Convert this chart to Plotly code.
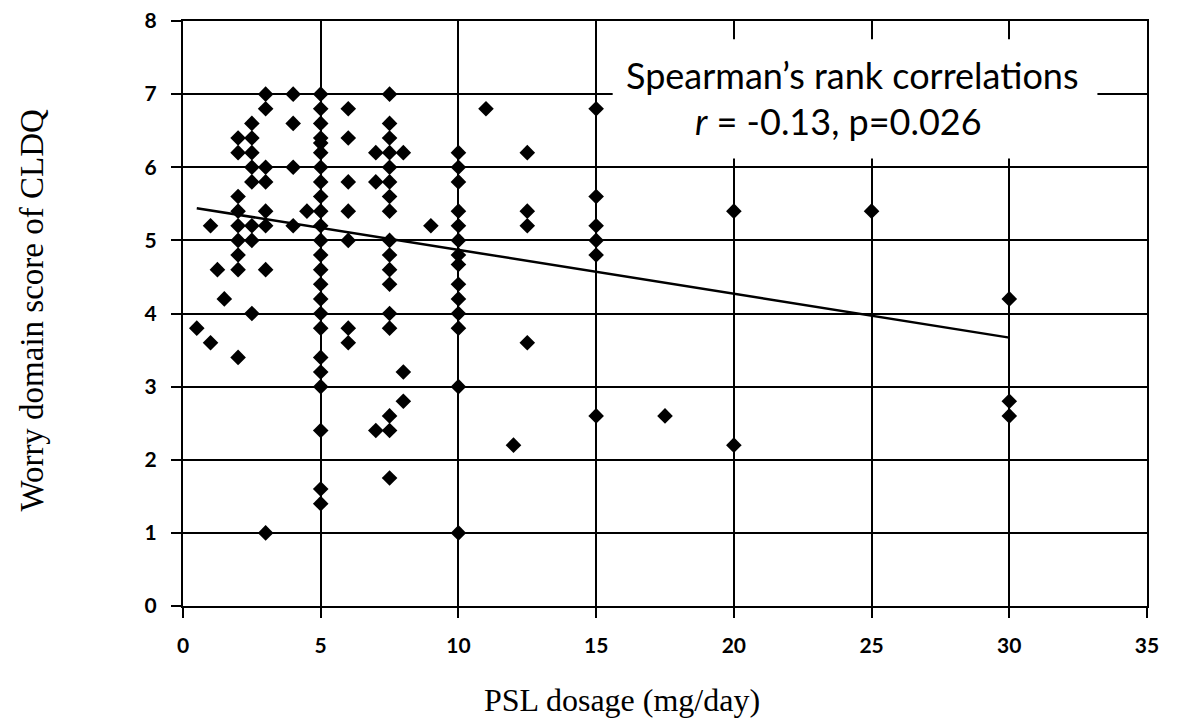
import plotly.graph_objects as go

# PSL dosage (mg/day) and Worry domain score of CLDQ
psl_dose = (
    [0.5]
    + [1, 1]
    + [1.25]
    + [1.5]
    + [2] * 9
    + [2.5] * 8
    + [3] * 8
    + [4] * 4
    + [4.5]
    + [5] * 24
    + [6] * 7
    + [7] * 3
    + [7.5] * 17
    + [8] * 3
    + [9]
    + [10] * 14
    + [11]
    + [12]
    + [12.5] * 4
    + [15] * 6
    + [17.5]
    + [20] * 2
    + [25]
    + [30] * 3
)
worry_score = (
    [3.8]
    + [5.2, 3.6]
    + [4.6]
    + [4.2]
    + [6.4, 6.2, 5.6, 5.4, 5.2, 5.0, 4.8, 4.6, 3.4]
    + [6.6, 6.4, 6.2, 6.0, 5.8, 5.2, 5.0, 4.0]
    + [7.0, 6.8, 6.0, 5.8, 5.4, 5.2, 4.6, 1.0]
    + [7.0, 6.6, 6.0, 5.2]
    + [5.4]
    + [7.0, 6.8, 6.6, 6.4, 6.33, 6.2, 6.0, 5.8, 5.6, 5.4, 5.2, 5.0,
       4.8, 4.6, 4.4, 4.2, 4.0, 3.8, 3.4, 3.2, 3.0, 2.4, 1.6, 1.4]
    + [6.8, 6.4, 5.8, 5.4, 5.0, 3.8, 3.6]
    + [6.2, 5.8, 2.4]
    + [7.0, 6.6, 6.4, 6.2, 6.0, 5.8, 5.6, 5.4, 5.0, 4.8, 4.6, 4.4,
       4.0, 3.8, 2.6, 2.4, 1.75]
    + [6.2, 3.2, 2.8]
    + [5.2]
    + [6.2, 6.0, 5.8, 5.4, 5.2, 5.0, 4.8, 4.67, 4.4, 4.2, 4.0, 3.8, 3.0, 1.0]
    + [6.8]
    + [2.2]
    + [6.2, 5.4, 5.2, 3.6]
    + [6.8, 5.6, 5.2, 5.0, 4.8, 2.6]
    + [2.6]
    + [5.4, 2.2]
    + [5.4]
    + [4.2, 2.8, 2.6]
)

# Linear trend line end points
trend_x = [0.5, 30]
trend_y = [5.44, 3.67]

x_ticks = [0, 5, 10, 15, 20, 25, 30, 35]
y_ticks = [0, 1, 2, 3, 4, 5, 6, 7, 8]

stat_line1 = "Spearman\u2019s rank correlations"
stat_line2 = "<i>r</i> = -0.13, p=0.026"
x_title = "PSL dosage (mg/day)"
y_title = "Worry domain score of CLDQ"

fig = go.Figure()

fig.add_trace(go.Scatter(
    x=trend_x, y=trend_y, mode="lines",
    line=dict(color="black", width=2.5),
    hoverinfo="skip", showlegend=False,
))

fig.add_trace(go.Scatter(
    x=psl_dose, y=worry_score, mode="markers",
    marker=dict(symbol="diamond", size=12, color="black",
                line=dict(width=0)),
    showlegend=False,
))

# white text box hiding the grid behind the statistics
fig.add_shape(type="rect", xref="x", yref="y",
              x0=15.6, x1=33.2, y0=6.12, y1=7.75,
              fillcolor="white", line=dict(width=0), layer="between")

tick_font = dict(family="Lato", size=21, color="black", weight="bold")

fig.update_layout(
    width=1162, height=712,
    margin=dict(l=175, r=23, t=13, b=114, autoexpand=False),
    paper_bgcolor="white", plot_bgcolor="white",
    xaxis=dict(
        range=[0, 35], tickvals=x_ticks, ticktext=[str(v) for v in x_ticks],
        showgrid=True, gridcolor="black", gridwidth=2,
        showline=True, linecolor="black", linewidth=2, mirror=True,
        ticks="outside", ticklen=10, tickwidth=2, tickcolor="black",
        tickfont=tick_font, ticklabelstandoff=10, zeroline=False,
        ticklabeloverflow="allow", automargin=False,
    ),
    yaxis=dict(
        range=[0, 8], tickvals=y_ticks, ticktext=[str(v) for v in y_ticks],
        showgrid=True, gridcolor="black", gridwidth=2,
        showline=True, linecolor="black", linewidth=2, mirror=True,
        ticks="outside", ticklen=10, tickwidth=2, tickcolor="black",
        tickfont=tick_font, ticklabelstandoff=10, zeroline=False,
        ticklabeloverflow="allow", automargin=False,
    ),
    annotations=[
        dict(text=stat_line1, x=24.3, y=7.26, xref="x", yref="y",
             showarrow=False, xanchor="center", yanchor="middle",
             font=dict(family="Lato", size=36, color="black")),
        dict(text=stat_line2, x=23.8, y=6.63, xref="x", yref="y",
             showarrow=False, xanchor="center", yanchor="middle",
             font=dict(family="Lato", size=36, color="black")),
        dict(text=x_title, x=0.455, y=-0.1604, xref="paper", yref="paper",
             showarrow=False, xanchor="center", yanchor="middle",
             font=dict(family="Liberation Serif", size=32, color="black")),
        dict(text=y_title, x=-0.1566, y=0.505, xref="paper", yref="paper",
             showarrow=False, xanchor="center", yanchor="middle", textangle=-90,
             font=dict(family="Liberation Serif", size=33, color="black")),
    ],
)

fig.write_html("out.html")
